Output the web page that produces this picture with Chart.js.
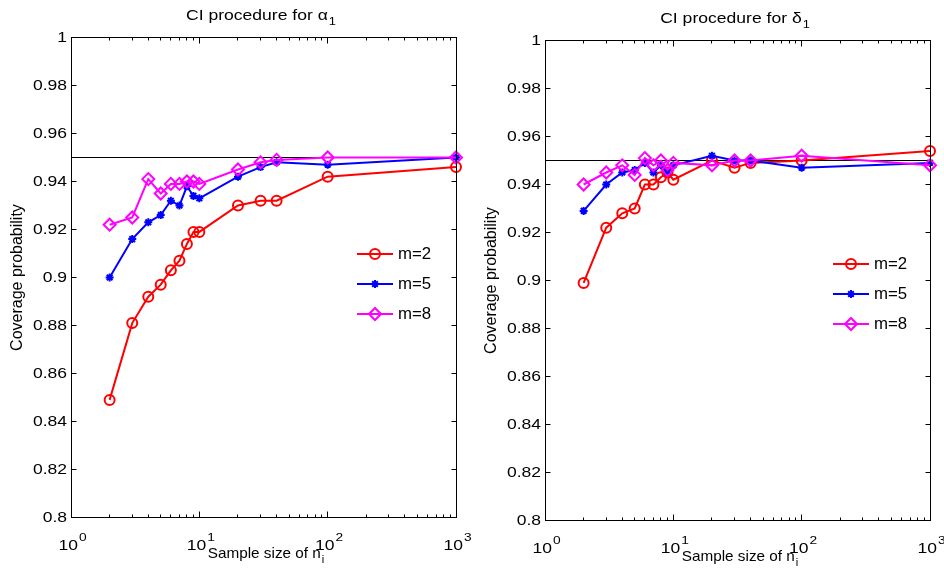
<!DOCTYPE html>
<html>
<head>
<meta charset="utf-8">
<script src="https://cdn.jsdelivr.net/npm/chart.js@4/dist/chart.umd.min.js"></script>
<style>
  body { margin: 0; background: #fff; }
  #wrap { position: relative; width: 944px; height: 579px; }
  canvas { position: absolute; top: 0; }
</style>
</head>
<body>
<div id="wrap">
  <canvas id="alphaChart" width="472" height="579" style="left:0"></canvas>
  <canvas id="deltaChart" width="472" height="579" style="left:472px"></canvas>
</div>
<script>
// sample sizes n_i (log x axis)
const sampleSizes = [2, 3, 4, 5, 6, 7, 8, 9, 10, 20, 30, 40, 100, 1000];

// coverage probability, CI procedure for alpha_1
const alphaM2 = [0.849, 0.881, 0.892, 0.897, 0.903, 0.907, 0.914, 0.919, 0.919, 0.930, 0.932, 0.932, 0.942, 0.946];
const alphaM5 = [0.900, 0.916, 0.923, 0.926, 0.932, 0.930, 0.938, 0.934, 0.933, 0.942, 0.946, 0.948, 0.947, 0.950];
const alphaM8 = [0.922, 0.925, 0.941, 0.935, 0.939, 0.939, 0.940, 0.940, 0.939, 0.945, 0.948, 0.949, 0.950, 0.950];

// coverage probability, CI procedure for delta_1
const deltaM2 = [0.899, 0.922, 0.928, 0.930, 0.940, 0.940, 0.943, 0.945, 0.942, 0.950, 0.947, 0.949, 0.950, 0.954];
const deltaM5 = [0.929, 0.940, 0.945, 0.946, 0.949, 0.945, 0.948, 0.945, 0.948, 0.952, 0.950, 0.950, 0.947, 0.949];
const deltaM8 = [0.940, 0.945, 0.948, 0.944, 0.951, 0.948, 0.950, 0.946, 0.949, 0.948, 0.950, 0.950, 0.952, 0.948];

const nominalLevel = 0.95;
const xTicks = [1, 10, 100, 1000];
const xTickExponents = ['0', '1', '2', '3'];
const seriesNames = ['m=2', 'm=5', 'm=8'];

const FONT = '"Liberation Sans", Arial, sans-serif';

function toPoints(ys) {
    return sampleSizes.map((n, i) => ({ x: n, y: ys[i] }));
}

// fillText squeezed/stretched horizontally by sx
function wideText(ctx, text, x, y, sx) {
    ctx.save();
    ctx.translate(x, y);
    ctx.scale(sx, 1);
    ctx.fillText(text, 0, 0);
    ctx.restore();
}

// text with a small raised/lowered part, e.g. 10^2 or n_i
function drawScript(ctx, base, small, cx, cy, size, shift, sx) {
    const big = size + 'px ' + FONT;
    const little = Math.round(size * 0.75) + 'px ' + FONT;
    ctx.font = big;
    const w1 = ctx.measureText(base).width * sx;
    ctx.font = little;
    const w2 = ctx.measureText(small).width * sx;
    const x0 = cx - (w1 + w2) / 2;
    ctx.textAlign = 'left';
    ctx.textBaseline = 'middle';
    ctx.font = big;
    wideText(ctx, base, x0, cy, sx);
    ctx.font = little;
    wideText(ctx, small, x0 + w1 + 1, cy + shift, sx);
}

const matlabFrame = {
    id: 'matlabFrame',
    afterDraw: (chart, args, opts) => {
        const { ctx, chartArea: { left, right, top, bottom }, scales: { x, y } } = chart;
        ctx.save();
        ctx.fillStyle = '#000';
        ctx.strokeStyle = '#000';
        ctx.lineWidth = 1;

        // box
        const L = Math.floor(left) + 0.5, T = Math.floor(top) + 0.5;
        const R = Math.floor(right) + 0.5, B = Math.floor(bottom) + 0.5;
        ctx.strokeRect(L, T, R - L, B - T);

        // inward ticks on y
        ctx.beginPath();
        y.ticks.forEach(t => {
            const py = Math.floor(y.getPixelForValue(t.value)) + 0.5;
            ctx.moveTo(L, py); ctx.lineTo(L + 5, py);
            ctx.moveTo(R, py); ctx.lineTo(R - 5, py);
        });
        // inward ticks on x (decades + minor)
        xTicks.forEach(d => {
            for (let k = 1; k <= 9; k++) {
                const v = d * k;
                if (v > 1000) break;
                const len = k === 1 ? 6 : 3;
                const px = Math.floor(x.getPixelForValue(v)) + 0.5;
                ctx.moveTo(px, B); ctx.lineTo(px, B - len);
                ctx.moveTo(px, T); ctx.lineTo(px, T + len);
            }
        });
        ctx.stroke();

        // y tick labels
        ctx.font = '14px ' + FONT;
        ctx.textAlign = 'right';
        ctx.textBaseline = 'middle';
        y.ticks.forEach(t => {
            wideText(ctx, String(Number(t.value.toFixed(2))), left - 4, y.getPixelForValue(t.value) + 1, 1.25);
        });

        // x tick labels 10^k
        xTicks.forEach((v, i) => {
            drawScript(ctx, '10', xTickExponents[i], x.getPixelForValue(v) + 1, bottom + 29, 14, -9, 1.25);
        });

        // axis titles
        const cx = (left + right) / 2;
        drawScript(ctx, 'Sample size of n', 'i', cx + 2, bottom + 36, 15, 6, 1.02);
        ctx.save();
        ctx.translate(left - 53, (top + bottom) / 2);
        ctx.rotate(-Math.PI / 2);
        ctx.font = '16px ' + FONT;
        ctx.textAlign = 'center';
        ctx.textBaseline = 'middle';
        ctx.fillText('Coverage probability', 0, 0);
        ctx.restore();

        // title
        drawScript(ctx, opts.title, '1', cx - 3, top - 22, 15, 6, 1.17);

        // legend
        chart.data.datasets.slice(0, 3).forEach((ds, i) => {
            const ly = opts.legendY + i * 30;
            ctx.strokeStyle = ds.borderColor;
            ctx.lineWidth = 2;
            ctx.beginPath();
            ctx.moveTo(opts.legendX, ly);
            ctx.lineTo(opts.legendX + 36, ly);
            ctx.stroke();
            ctx.fillStyle = 'rgba(0,0,0,0)';
            Chart.helpers.drawPoint(ctx, {
                pointStyle: ds.pointStyle, radius: ds.pointRadius,
                borderWidth: ds.pointBorderWidth, rotation: 0
            }, opts.legendX + 18, ly);
            ctx.fillStyle = '#000';
            ctx.font = '16px ' + FONT;
            ctx.textAlign = 'left';
            ctx.textBaseline = 'middle';
            wideText(ctx, ds.label, opts.legendX + 41, ly + 1, 1.05);
        });
        ctx.restore();
    }
};

function makeChart(canvasId, m2, m5, m8, frame) {
    const data = {
        datasets: [
            { label: seriesNames[0], data: toPoints(m2), borderColor: '#ff0000', pointStyle: 'circle', pointRadius: 5, order: 3 },
            { label: seriesNames[1], data: toPoints(m5), borderColor: '#0000ff', pointStyle: 'star', pointRadius: 4, order: 2 },
            { label: seriesNames[2], data: toPoints(m8), borderColor: '#ff00ff', pointStyle: 'rectRot', pointRadius: 6, order: 1 },
            { label: 'nominal', data: [{ x: 1, y: nominalLevel }, { x: 1000, y: nominalLevel }],
              borderColor: '#000', borderWidth: 1, pointRadius: 0, order: 4 }
        ]
    };
    data.datasets.slice(0, 3).forEach(ds => {
        ds.borderWidth = 2;
        ds.pointBorderWidth = 2;
        ds.pointBackgroundColor = 'rgba(0,0,0,0)';
        ds.pointBorderColor = ds.borderColor;
        ds.tension = 0;
        ds.clip = false;
    });

    return new Chart(document.getElementById(canvasId), {
        type: 'line',
        data,
        options: {
            responsive: false,
            animation: false,
            events: [],
            layout: { padding: { top: frame.top, right: frame.right, bottom: 0, left: 0 } },
            plugins: {
                legend: { display: false },
                tooltip: { enabled: false },
                matlabFrame: { title: frame.title, legendX: frame.legendX, legendY: frame.legendY }
            },
            scales: {
                x: {
                    type: 'logarithmic', min: 1, max: 1000,
                    grid: { display: false, drawTicks: false },
                    border: { display: false },
                    ticks: { display: false },
                    afterFit: s => { s.height = 579 - frame.top - 480; }
                },
                y: {
                    min: 0.8, max: 1,
                    grid: { display: false, drawTicks: false },
                    border: { display: false },
                    ticks: { display: false, stepSize: 0.02 },
                    afterFit: s => { s.width = frame.yWidth; }
                }
            }
        },
        plugins: [matlabFrame]
    });
}

makeChart('alphaChart', alphaM2, alphaM5, alphaM8,
    { top: 37.5, right: 16, yWidth: 71, title: 'CI procedure for α', legendX: 357, legendY: 254 });
makeChart('deltaChart', deltaM2, deltaM5, deltaM8,
    { top: 40.5, right: 14, yWidth: 73, title: 'CI procedure for δ', legendX: 361, legendY: 264 });
</script>
</body>
</html>
